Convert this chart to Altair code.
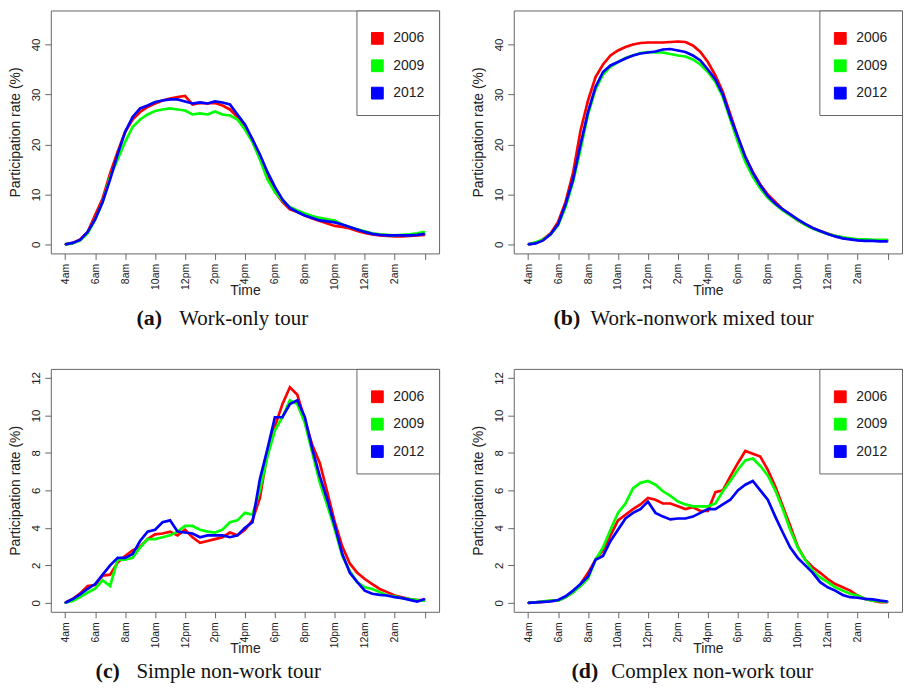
import altair as alt
import pandas as pd

hours = [i * 0.5 for i in range(49)]
years = ["2006", "2009", "2012"]
colors = ["#ff0000", "#00ff00", "#0000ff"]
x_tick_labels = ["4am", "6am", "8am", "10am", "12pm", "2pm", "4pm", "6pm", "8pm", "10pm", "12am", "2am", ""]

a_2006 = [0, 0.3, 1.0, 2.5, 5.9, 9.2, 14.2, 18.5, 22.5, 25.0, 26.5, 27.5, 28.2, 28.8, 29.2, 29.5, 29.7, 28.0, 28.3, 28.2,
          28.3, 27.8, 27.0, 25.5, 23.5, 21.0, 17.5, 14.0, 10.5, 8.5, 7.0, 6.5, 5.8, 5.2, 4.7, 4.2, 3.7, 3.5, 3.2, 2.7,
          2.3, 2.0, 1.8, 1.7, 1.6, 1.6, 1.7, 1.8, 1.9]
a_2009 = [0, 0.2, 0.8, 2.2, 5.0, 8.5, 13.5, 17.0, 20.5, 23.5, 25.0, 26.0, 26.7, 27.0, 27.2, 27.0, 26.8, 26.0, 26.2, 26.0,
          26.6, 26.0, 25.8, 25.0, 23.0, 20.5, 17.0, 13.0, 10.5, 8.8, 7.5, 6.8, 6.2, 5.7, 5.3, 5.0, 4.8, 4.0, 3.5, 3.0,
          2.6, 2.2, 2.0, 1.9, 1.8, 1.9, 2.0, 2.2, 2.5]
a_2012 = [0, 0.3, 0.9, 2.5, 5.0, 8.5, 13.0, 18.0, 22.5, 25.5, 27.2, 27.8, 28.5, 28.8, 29.0, 29.0, 28.6, 28.2, 28.4, 28.2,
          28.6, 28.4, 28.0, 26.0, 24.0, 21.0, 18.0, 14.5, 11.5, 9.0, 7.3, 6.5, 5.8, 5.3, 4.8, 4.6, 4.4, 4.0, 3.5, 3.0,
          2.5, 2.1, 1.9, 1.8, 1.8, 1.8, 1.8, 1.9, 2.1]

b_2006 = [0, 0.3, 1.0, 2.2, 4.5, 8.5, 14.3, 22.8, 28.8, 33.5, 36.0, 37.8, 38.8, 39.5, 40.0, 40.3, 40.4, 40.4, 40.4, 40.5,
          40.6, 40.5, 39.8, 38.5, 36.5, 33.8, 30.5, 26.0, 21.5, 17.5, 14.5, 12.0, 10.0, 8.5, 7.0, 6.0, 4.8, 4.0, 3.3, 2.7,
          2.2, 1.7, 1.3, 1.1, 0.9, 0.9, 0.8, 0.8, 0.8]
b_2009 = [0, 0.4, 1.0, 2.0, 3.8, 7.5, 12.5, 19.0, 26.0, 31.0, 34.0, 35.6, 36.5, 37.3, 37.8, 38.3, 38.5, 38.4, 38.4, 38.1,
          37.8, 37.6, 37.0, 36.0, 34.5, 32.5, 29.5, 25.0, 20.5, 16.5, 13.5, 11.2, 9.3, 8.0, 6.8, 5.8, 4.8, 3.9, 3.2, 2.6,
          2.1, 1.7, 1.4, 1.2, 1.0, 1.0, 0.9, 0.9, 0.9]
b_2012 = [0, 0.2, 0.8, 2.0, 4.0, 8.0, 13.0, 20.0, 26.5, 31.5, 34.5, 35.8, 36.5, 37.2, 37.8, 38.2, 38.4, 38.6, 39.0, 39.1,
          38.8, 38.5, 37.8, 36.8, 35.0, 33.0, 30.0, 25.5, 21.5, 17.5, 14.3, 11.8, 9.7, 8.2, 7.0, 6.0, 5.0, 4.1, 3.3, 2.7,
          2.1, 1.6, 1.2, 1.0, 0.8, 0.7, 0.7, 0.6, 0.6]

c_2006 = [0, 0.2, 0.5, 0.9, 0.95, 1.45, 1.5, 2.15, 2.5, 2.8, 3.0, 3.4, 3.65, 3.7, 3.8, 3.6, 3.9, 3.5, 3.2, 3.3,
          3.4, 3.5, 3.75, 3.6, 3.9, 4.4, 5.6, 8.0, 9.4, 10.6, 11.5, 11.1, 9.75, 8.4, 7.45, 5.9, 4.3, 3.0, 2.1, 1.6,
          1.27, 1.0, 0.74, 0.57, 0.39, 0.3, 0.2, 0.15, 0.15]
c_2009 = [0, 0.1, 0.3, 0.55, 0.75, 1.2, 0.9, 2.3, 2.3, 2.4, 2.95, 3.4, 3.4, 3.5, 3.6, 3.8, 4.1, 4.1, 3.9, 3.8,
          3.75, 3.9, 4.3, 4.4, 4.8, 4.7, 6.0, 7.8, 9.2, 9.9, 10.8, 10.6, 9.6, 8.0, 6.4, 5.2, 3.9, 2.5, 1.7, 1.1,
          0.83, 0.74, 0.57, 0.39, 0.34, 0.25, 0.2, 0.15, 0.1]
c_2012 = [0, 0.2, 0.45, 0.75, 1.0, 1.5, 2.0, 2.4, 2.4, 2.6, 3.3, 3.8, 3.9, 4.3, 4.4, 3.8, 3.75, 3.7, 3.5, 3.6,
          3.6, 3.6, 3.5, 3.6, 4.0, 4.3, 6.6, 8.2, 9.9, 9.9, 10.6, 10.8, 9.9, 8.2, 6.75, 5.5, 4.1, 2.6, 1.6, 1.1,
          0.65, 0.48, 0.42, 0.39, 0.3, 0.25, 0.16, 0.07, 0.2]

d_2006 = [0, 0.02, 0.05, 0.1, 0.12, 0.3, 0.57, 1.0, 1.6, 2.3, 2.8, 3.6, 4.4, 4.7, 5.0, 5.25, 5.6, 5.5, 5.3, 5.3,
          5.15, 5.0, 5.1, 4.9, 4.9, 5.9, 6.0, 6.75, 7.45, 8.1, 7.95, 7.8, 7.1, 6.2, 5.15, 4.1, 3.0, 2.3, 1.9, 1.6,
          1.27, 1.0, 0.83, 0.65, 0.39, 0.21, 0.12, 0.04, 0.04]
d_2009 = [0, 0.02, 0.08, 0.12, 0.12, 0.3, 0.55, 0.9, 1.3, 2.3, 2.95, 3.9, 4.8, 5.3, 6.1, 6.4, 6.5, 6.3, 5.95, 5.7,
          5.4, 5.25, 5.15, 5.15, 5.15, 5.3, 5.95, 6.5, 7.1, 7.6, 7.7, 7.3, 6.8, 6.0, 5.0, 3.9, 2.95, 2.3, 1.7, 1.35,
          1.1, 0.83, 0.65, 0.48, 0.39, 0.21, 0.12, 0.07, 0.05]
d_2012 = [0, 0.02, 0.05, 0.08, 0.15, 0.35, 0.65, 1.0, 1.4, 2.3, 2.5, 3.3, 3.9, 4.5, 4.8, 5.0, 5.4, 4.8, 4.6, 4.45,
          4.5, 4.5, 4.6, 4.8, 5.0, 5.0, 5.25, 5.5, 6.0, 6.3, 6.5, 6.0, 5.5, 4.6, 3.75, 2.95, 2.4, 2.0, 1.6, 1.1,
          0.83, 0.65, 0.42, 0.3, 0.27, 0.21, 0.18, 0.12, 0.07]

caption_letters = ["(a)", "(b)", "(c)", "(d)"]
caption_texts = ["Work-only tour", "Work-nonwork mixed tour", "Simple non-work tour", "Complex non-work tour"]

# layout settings (pixels)
W, H = 390, 244
cap_letter_x = [86, 40, 45, 58]
cap_text_x = [129, 77, 86, 98]
cap_y = [316, 316, 310, 310]

label_expr = "[" + ",".join("'%s'" % s for s in x_tick_labels) + "][round(datum.value / 2)]"
color_scale = alt.Scale(domain=years, range=colors)


def panel(series, ydom, yticks, idx):
    rows = []
    for yr, vals in zip(years, series):
        for h, v in zip(hours, vals):
            rows.append({"hour": h, "rate": v, "year": yr})
    df = pd.DataFrame(rows)
    base = alt.Chart(df).encode(
        x=alt.X("hour:Q",
                scale=alt.Scale(domain=[-0.96, 24.96], nice=False, zero=False),
                axis=alt.Axis(values=list(range(0, 25, 2)), labelExpr=label_expr, labelAngle=270,
                              labelAlign="right", labelBaseline="middle", labelFontSize=10.5,
                              labelFlush=False, labelOverlap=False, tickSize=6, labelPadding=4,
                              title="Time", titleFontSize=14, titleY=41, titleBaseline="alphabetic")),
        y=alt.Y("rate:Q",
                scale=alt.Scale(domain=ydom, nice=False, zero=False),
                axis=alt.Axis(values=yticks, labelAngle=270, labelAlign="center", labelBaseline="bottom",
                              labelFontSize=11.5, labelFlush=False, labelOverlap=False, tickSize=6,
                              labelPadding=3, title="Participation rate (%)", titleFontSize=14,
                              titleX=-31, titleBaseline="alphabetic", titleAngle=270)),
    )
    squares = base.mark_square(filled=True, size=2, opacity=1).encode(
        fill=alt.Fill("year:N", scale=color_scale,
                      legend=alt.Legend(title=" ", titleFontSize=5, titlePadding=2,
                                        orient="top-right", offset=0, padding=14,
                                        rowPadding=11.5, symbolType="square", symbolSize=140,
                                        symbolOpacity=1, symbolStrokeColor="#333", symbolStrokeWidth=1,
                                        labelFont="Liberation Sans", labelFontSize=14,
                                        labelColor="#222", labelOffset=9,
                                        strokeColor="#666", fillColor="white")))
    lines = base.mark_line(strokeWidth=2.7).encode(
        stroke=alt.Stroke("year:N", scale=color_scale, legend=None))
    cap1 = alt.Chart(pd.DataFrame({"t": [caption_letters[idx]]})).mark_text(
        font="Liberation Serif", fontSize=22, fontWeight="bold", align="left", baseline="alphabetic",
        color="#111").encode(x=alt.value(cap_letter_x[idx]), y=alt.value(cap_y[idx]), text="t:N")
    cap2 = alt.Chart(pd.DataFrame({"t": [caption_texts[idx]]})).mark_text(
        font="Liberation Serif", fontSize=21, align="left", baseline="alphabetic",
        color="#111").encode(x=alt.value(cap_text_x[idx]), y=alt.value(cap_y[idx]), text="t:N")
    return alt.layer(squares, lines, cap1, cap2).properties(width=W, height=H)


pa = panel([a_2006, a_2009, a_2012], [-1.8, 46.8], [0, 10, 20, 30, 40], 0)
pb = panel([b_2006, b_2009, b_2012], [-1.8, 46.8], [0, 10, 20, 30, 40], 1)
pc = panel([c_2006, c_2009, c_2012], [-0.48, 12.48], [0, 2, 4, 6, 8, 10, 12], 2)
pd_ = panel([d_2006, d_2009, d_2012], [-0.48, 12.48], [0, 2, 4, 6, 8, 10, 12], 3)

chart = alt.concat(pa, pb, pc, pd_, columns=2, spacing={"row": 116, "column": 75}, bounds="flush").resolve_scale(
    fill="independent", stroke="independent").resolve_legend(fill="independent").configure_view(
    stroke="#666", strokeWidth=1).configure_axis(
    grid=False, domain=False, tickColor="#666", labelColor="#222", titleColor="#222",
    labelFont="Liberation Sans", titleFont="Liberation Sans", titleFontWeight="normal").properties(
    padding=0, background="white")

chart.save("out.html", embed_options={"renderer": "svg", "actions": False})
